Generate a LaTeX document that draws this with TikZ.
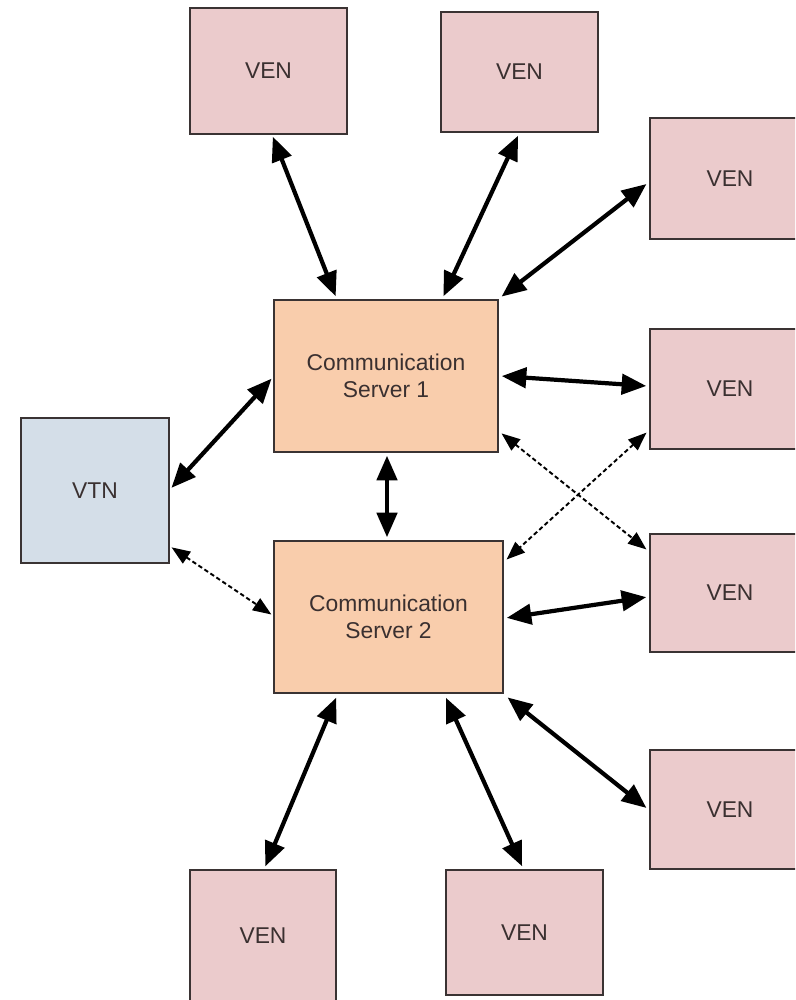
\documentclass[tikz,border=0pt]{standalone}
\usepackage{fontspec}
\setmainfont{Liberation Sans}
\usetikzlibrary{arrows.meta,calc}

\definecolor{venfill}{HTML}{EBCBCC}
\definecolor{csfill}{HTML}{F9CDAC}
\definecolor{vtnfill}{HTML}{D4DEE8}
\definecolor{boxline}{HTML}{3A3333}
\definecolor{txt}{HTML}{3A3030}

\tikzset{
  box/.style={draw=boxline, line width=1pt, inner sep=0pt, text=txt,
    font=\fontsize{13}{15.5}\selectfont, align=center},
  ven/.style={box, fill=venfill},
  server/.style={box, fill=csfill},
  vtn/.style={box, fill=vtnfill},
  link/.style={line width=2.4pt, black,
    {Triangle[length=14pt,width=11.5pt]}-{Triangle[length=14pt,width=11.5pt]},
    shorten <=0.5pt, shorten >=0.5pt},
  backup/.style={line width=1.1pt, black, dash pattern=on 2.5pt off 1.6pt,
    {Triangle[length=10.5pt,width=8pt]}-{Triangle[length=10.5pt,width=8pt]},
    shorten <=0.5pt, shorten >=0.5pt}
}

\begin{document}
\begin{tikzpicture}[x=0.02cm, y=-0.02cm]
  \useasboundingbox (0,0) rectangle (795,1000);
  \clip (0,0) rectangle (795,1000);

  % end nodes above the servers
  \node[ven, minimum width=3.14cm, minimum height=2.52cm] (v1) at (268.5,71) {VEN};
  \node[ven, minimum width=3.14cm, minimum height=2.40cm] (v2) at (519.5,72) {VEN};

  % end nodes on the right, running past the edge
  \node[ven, minimum width=3.2cm, minimum height=2.42cm] (v3) at (730,178.5) {VEN};
  \node[ven, minimum width=3.2cm, minimum height=2.40cm] (v4) at (730,389) {VEN};
  \node[ven, minimum width=3.2cm, minimum height=2.36cm] (v5) at (730,593) {VEN};
  \node[ven, minimum width=3.2cm, minimum height=2.38cm] (v6) at (730,809.5) {VEN};

  % end nodes below the servers
  \node[ven, minimum width=2.92cm, minimum height=2.64cm] (v7) at (263,936) {VEN};
  \node[ven, minimum width=3.14cm, minimum height=2.50cm] (v8) at (524.5,932.5) {VEN};

  % servers and top node
  \node[server, minimum width=4.48cm, minimum height=3.04cm] (cs1) at (386,376)
    {Communication\\Server 1};
  \node[server, minimum width=4.58cm, minimum height=3.04cm] (cs2) at (388.5,617)
    {Communication\\Server 2};
  \node[vtn, minimum width=2.96cm, minimum height=2.90cm] (vtn) at (95,490.5) {VTN};

  % primary links of server 1
  \draw[link] ($(v1.south)+(4,1)$) -- ($(cs1.north)+(-50,-2)$);
  \draw[link] ($(v2.south)+(-1,2)$) -- ($(cs1.north)+(57,-2)$);
  \draw[link] ($(v3.west)+(-2,5)$) -- ($(cs1.north east)+(2,-2)$);
  \draw[link] ($(cs1.east)+(2,0)$) -- ($(v4.west)+(-2,-3)$);
  \draw[link] ($(cs1.west)+(-1,2)$) -- ($(vtn.east)+(1,-2)$);
  \draw[link] ($(cs1.south)+(1,2)$) -- ($(cs1.south |- cs2.north)+(1,-2)$);

  % primary links of server 2
  \draw[link] ($(cs2.east)+(2,1)$) -- ($(v5.west)+(-2,4)$);
  \draw[link] ($(cs2.south east)+(3,3)$) -- ($(v6.west)+(-2,-1)$);
  \draw[link] ($(cs2.south)+(-52,3)$) -- ($(v7.north)+(2,-2)$);
  \draw[link] ($(cs2.south)+(57,3)$) -- ($(v8.north)+(-2,-2)$);

  % backup links
  \draw[backup] ($(vtn.south east)+(1,-17)$) -- ($(cs2.west)+(-1,-2)$);
  \draw[backup] ($(cs1.south east)+(2,-20)$) -- ($(v5.west)+(-2,-43)$);
  \draw[backup] ($(v4.west)+(-2,43)$) -- ($(cs2.north east)+(2,20)$);
\end{tikzpicture}
\end{document}
